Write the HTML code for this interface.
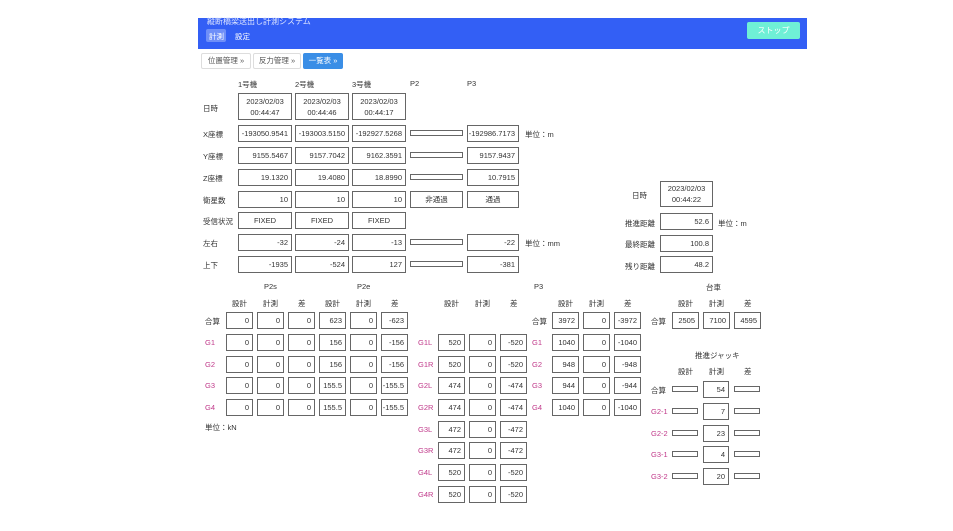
<!DOCTYPE html>
<html><head><meta charset="utf-8"><style>
body{margin:0;width:953px;height:531px;background:#fff;position:relative;overflow:hidden;font-family:"Liberation Sans","Noto Sans CJK JP",sans-serif;font-size:7.5px;color:#333}
div{position:absolute;box-sizing:border-box}
.b{border:1px solid #666;text-align:right;padding-right:3px;line-height:15px;height:17px;background:#fff}
.c{text-align:center;padding:0}
.t{border:1px solid #666;height:6px}
.l{white-space:nowrap}
.p{color:#c0398a}
</style></head><body>
<div style="left:198px;top:18px;width:609px;height:31px;background:#335ff5"></div>
<div class="l" style="left:207px;top:16px;color:#dfe6ff;font-size:8px">縦断橋梁送出し計測システム</div>
<div style="left:206px;top:29px;width:20px;height:13px;background:#6f8ff8;border-radius:2px"></div>
<div class="l" style="left:209px;top:31px;color:#fff;font-size:7.5px">計測</div>
<div class="l" style="left:235px;top:31px;color:#fff;font-size:7.5px">設定</div>
<div style="left:747px;top:22px;width:53px;height:17px;background:#6ff0d6;border-radius:2px;color:#fff;text-align:center;line-height:17px;font-size:8px">ストップ</div>
<div style="left:201px;top:53px;width:50px;height:16px;border:1px solid #ddd;border-radius:2px;text-align:center;line-height:14px;color:#555">位置管理 »</div>
<div style="left:253px;top:53px;width:48px;height:16px;border:1px solid #ddd;border-radius:2px;text-align:center;line-height:14px;color:#555">反力管理 »</div>
<div style="left:303px;top:53px;width:40px;height:16px;background:#3a8ee6;border-radius:2px;text-align:center;line-height:16px;color:#fff">一覧表 »</div>

<div class="l" style="left:238px;top:79px">1号機</div>
<div class="l" style="left:295px;top:79px">2号機</div>
<div class="l" style="left:352px;top:79px">3号機</div>
<div class="l" style="left:410px;top:79px">P2</div>
<div class="l" style="left:467px;top:79px">P3</div>

<div class="l" style="left:203px;top:103px">日時</div>
<div class="b c" style="left:238px;top:93px;width:54px;height:27px;line-height:11px;padding-top:2px">2023/02/03<br>00:44:47</div>
<div class="b c" style="left:295px;top:93px;width:54px;height:27px;line-height:11px;padding-top:2px">2023/02/03<br>00:44:46</div>
<div class="b c" style="left:352px;top:93px;width:54px;height:27px;line-height:11px;padding-top:2px">2023/02/03<br>00:44:17</div>

<div class="l" style="left:203px;top:129px">X座標</div>
<div class="b" style="left:238px;top:125px;width:54px">-193050.9541</div>
<div class="b" style="left:295px;top:125px;width:54px">-193003.5150</div>
<div class="b" style="left:352px;top:125px;width:54px">-192927.5268</div>
<div class="t" style="left:410px;top:130px;width:53px"></div>
<div class="b" style="left:467px;top:125px;width:52px">-192986.7173</div>
<div class="l" style="left:525px;top:129px">単位：m</div>

<div class="l" style="left:203px;top:151px">Y座標</div>
<div class="b" style="left:238px;top:147px;width:54px">9155.5467</div>
<div class="b" style="left:295px;top:147px;width:54px">9157.7042</div>
<div class="b" style="left:352px;top:147px;width:54px">9162.3591</div>
<div class="t" style="left:410px;top:152px;width:53px"></div>
<div class="b" style="left:467px;top:147px;width:52px">9157.9437</div>

<div class="l" style="left:203px;top:173px">Z座標</div>
<div class="b" style="left:238px;top:169px;width:54px">19.1320</div>
<div class="b" style="left:295px;top:169px;width:54px">19.4080</div>
<div class="b" style="left:352px;top:169px;width:54px">18.8990</div>
<div class="t" style="left:410px;top:174px;width:53px"></div>
<div class="b" style="left:467px;top:169px;width:52px">10.7915</div>

<div class="l" style="left:203px;top:195px">衛星数</div>
<div class="b" style="left:238px;top:191px;width:54px">10</div>
<div class="b" style="left:295px;top:191px;width:54px">10</div>
<div class="b" style="left:352px;top:191px;width:54px">10</div>
<div class="b c" style="left:410px;top:191px;width:53px">非通過</div>
<div class="b c" style="left:467px;top:191px;width:52px">通過</div>

<div class="l" style="left:203px;top:216px">受信状況</div>
<div class="b c" style="left:238px;top:212px;width:54px">FIXED</div>
<div class="b c" style="left:295px;top:212px;width:54px">FIXED</div>
<div class="b c" style="left:352px;top:212px;width:54px">FIXED</div>

<div class="l" style="left:203px;top:238px">左右</div>
<div class="b" style="left:238px;top:234px;width:54px">-32</div>
<div class="b" style="left:295px;top:234px;width:54px">-24</div>
<div class="b" style="left:352px;top:234px;width:54px">-13</div>
<div class="t" style="left:410px;top:239px;width:53px"></div>
<div class="b" style="left:467px;top:234px;width:52px">-22</div>
<div class="l" style="left:525px;top:238px">単位：mm</div>

<div class="l" style="left:203px;top:260px">上下</div>
<div class="b" style="left:238px;top:256px;width:54px">-1935</div>
<div class="b" style="left:295px;top:256px;width:54px">-524</div>
<div class="b" style="left:352px;top:256px;width:54px">127</div>
<div class="t" style="left:410px;top:261px;width:53px"></div>
<div class="b" style="left:467px;top:256px;width:52px">-381</div>

<!-- right panel -->
<div class="l" style="left:632px;top:190px">日時</div>
<div class="b c" style="left:660px;top:181px;width:53px;height:26px;line-height:11px;padding-top:1px">2023/02/03<br>00:44:22</div>
<div class="l" style="left:625px;top:218px">推進距離</div>
<div class="b" style="left:660px;top:213px;width:53px">52.6</div>
<div class="l" style="left:718px;top:218px">単位：m</div>
<div class="l" style="left:625px;top:239px">最終距離</div>
<div class="b" style="left:660px;top:235px;width:53px">100.8</div>
<div class="l" style="left:625px;top:261px">残り距離</div>
<div class="b" style="left:660px;top:256px;width:53px">48.2</div>

<!-- lower headers -->
<div class="l" style="left:264px;top:282px">P2s</div>
<div class="l" style="left:357px;top:282px">P2e</div>
<div class="l" style="left:534px;top:282px">P3</div>
<div class="l" style="left:706px;top:282px">台車</div>

<div class="l" style="left:232px;top:298px">設計</div><div class="l" style="left:263px;top:298px">計測</div><div class="l" style="left:298px;top:298px">差</div>
<div class="l" style="left:325px;top:298px">設計</div><div class="l" style="left:356px;top:298px">計測</div><div class="l" style="left:391px;top:298px">差</div>
<div class="l" style="left:444px;top:298px">設計</div><div class="l" style="left:475px;top:298px">計測</div><div class="l" style="left:510px;top:298px">差</div>
<div class="l" style="left:558px;top:298px">設計</div><div class="l" style="left:589px;top:298px">計測</div><div class="l" style="left:624px;top:298px">差</div>
<div class="l" style="left:678px;top:298px">設計</div><div class="l" style="left:709px;top:298px">計測</div><div class="l" style="left:744px;top:298px">差</div>

<!-- left table -->
<div class="l" style="left:205px;top:316px">合算</div>
<div class="l p" style="left:205px;top:338px">G1</div>
<div class="l p" style="left:205px;top:360px">G2</div>
<div class="l p" style="left:205px;top:381px">G3</div>
<div class="l p" style="left:205px;top:403px">G4</div>
<div class="l" style="left:205px;top:422px">単位：kN</div>

<div class="b" style="left:226px;top:312px;width:27px">0</div><div class="b" style="left:257px;top:312px;width:27px">0</div><div class="b" style="left:288px;top:312px;width:27px">0</div><div class="b" style="left:319px;top:312px;width:27px">623</div><div class="b" style="left:350px;top:312px;width:27px">0</div><div class="b" style="left:381px;top:312px;width:27px">-623</div>
<div class="b" style="left:226px;top:334px;width:27px">0</div><div class="b" style="left:257px;top:334px;width:27px">0</div><div class="b" style="left:288px;top:334px;width:27px">0</div><div class="b" style="left:319px;top:334px;width:27px">156</div><div class="b" style="left:350px;top:334px;width:27px">0</div><div class="b" style="left:381px;top:334px;width:27px">-156</div>
<div class="b" style="left:226px;top:356px;width:27px">0</div><div class="b" style="left:257px;top:356px;width:27px">0</div><div class="b" style="left:288px;top:356px;width:27px">0</div><div class="b" style="left:319px;top:356px;width:27px">156</div><div class="b" style="left:350px;top:356px;width:27px">0</div><div class="b" style="left:381px;top:356px;width:27px">-156</div>
<div class="b" style="left:226px;top:377px;width:27px">0</div><div class="b" style="left:257px;top:377px;width:27px">0</div><div class="b" style="left:288px;top:377px;width:27px">0</div><div class="b" style="left:319px;top:377px;width:27px">155.5</div><div class="b" style="left:350px;top:377px;width:27px">0</div><div class="b" style="left:381px;top:377px;width:27px">-155.5</div>
<div class="b" style="left:226px;top:399px;width:27px">0</div><div class="b" style="left:257px;top:399px;width:27px">0</div><div class="b" style="left:288px;top:399px;width:27px">0</div><div class="b" style="left:319px;top:399px;width:27px">155.5</div><div class="b" style="left:350px;top:399px;width:27px">0</div><div class="b" style="left:381px;top:399px;width:27px">-155.5</div>

<!-- middle table -->
<div class="l p" style="left:418px;top:338px">G1L</div><div class="b" style="left:438px;top:334px;width:27px">520</div><div class="b" style="left:469px;top:334px;width:27px">0</div><div class="b" style="left:500px;top:334px;width:27px">-520</div>
<div class="l p" style="left:418px;top:360px">G1R</div><div class="b" style="left:438px;top:356px;width:27px">520</div><div class="b" style="left:469px;top:356px;width:27px">0</div><div class="b" style="left:500px;top:356px;width:27px">-520</div>
<div class="l p" style="left:418px;top:381px">G2L</div><div class="b" style="left:438px;top:377px;width:27px">474</div><div class="b" style="left:469px;top:377px;width:27px">0</div><div class="b" style="left:500px;top:377px;width:27px">-474</div>
<div class="l p" style="left:418px;top:403px">G2R</div><div class="b" style="left:438px;top:399px;width:27px">474</div><div class="b" style="left:469px;top:399px;width:27px">0</div><div class="b" style="left:500px;top:399px;width:27px">-474</div>
<div class="l p" style="left:418px;top:425px">G3L</div><div class="b" style="left:438px;top:421px;width:27px">472</div><div class="b" style="left:469px;top:421px;width:27px">0</div><div class="b" style="left:500px;top:421px;width:27px">-472</div>
<div class="l p" style="left:418px;top:446px">G3R</div><div class="b" style="left:438px;top:442px;width:27px">472</div><div class="b" style="left:469px;top:442px;width:27px">0</div><div class="b" style="left:500px;top:442px;width:27px">-472</div>
<div class="l p" style="left:418px;top:468px">G4L</div><div class="b" style="left:438px;top:464px;width:27px">520</div><div class="b" style="left:469px;top:464px;width:27px">0</div><div class="b" style="left:500px;top:464px;width:27px">-520</div>
<div class="l p" style="left:418px;top:490px">G4R</div><div class="b" style="left:438px;top:486px;width:27px">520</div><div class="b" style="left:469px;top:486px;width:27px">0</div><div class="b" style="left:500px;top:486px;width:27px">-520</div>

<!-- P3 right -->
<div class="l" style="left:532px;top:316px">合算</div><div class="b" style="left:552px;top:312px;width:27px">3972</div><div class="b" style="left:583px;top:312px;width:27px">0</div><div class="b" style="left:614px;top:312px;width:27px">-3972</div>
<div class="l p" style="left:532px;top:338px">G1</div><div class="b" style="left:552px;top:334px;width:27px">1040</div><div class="b" style="left:583px;top:334px;width:27px">0</div><div class="b" style="left:614px;top:334px;width:27px">-1040</div>
<div class="l p" style="left:532px;top:360px">G2</div><div class="b" style="left:552px;top:356px;width:27px">948</div><div class="b" style="left:583px;top:356px;width:27px">0</div><div class="b" style="left:614px;top:356px;width:27px">-948</div>
<div class="l p" style="left:532px;top:381px">G3</div><div class="b" style="left:552px;top:377px;width:27px">944</div><div class="b" style="left:583px;top:377px;width:27px">0</div><div class="b" style="left:614px;top:377px;width:27px">-944</div>
<div class="l p" style="left:532px;top:403px">G4</div><div class="b" style="left:552px;top:399px;width:27px">1040</div><div class="b" style="left:583px;top:399px;width:27px">0</div><div class="b" style="left:614px;top:399px;width:27px">-1040</div>

<!-- 台車 -->
<div class="l" style="left:651px;top:316px">合算</div><div class="b" style="left:672px;top:312px;width:27px">2505</div><div class="b" style="left:703px;top:312px;width:27px">7100</div><div class="b" style="left:734px;top:312px;width:27px">4595</div>

<!-- 推進ジャッキ -->
<div class="l" style="left:695px;top:350px">推進ジャッキ</div>
<div class="l" style="left:678px;top:366px">設計</div><div class="l" style="left:709px;top:366px">計測</div><div class="l" style="left:744px;top:366px">差</div>
<div class="l" style="left:651px;top:385px">合算</div><div class="t" style="left:672px;top:386px;width:26px"></div><div class="b" style="left:703px;top:381px;width:26px">54</div><div class="t" style="left:734px;top:386px;width:26px"></div>
<div class="l p" style="left:651px;top:407px">G2-1</div><div class="t" style="left:672px;top:408px;width:26px"></div><div class="b" style="left:703px;top:403px;width:26px">7</div><div class="t" style="left:734px;top:408px;width:26px"></div>
<div class="l p" style="left:651px;top:429px">G2-2</div><div class="t" style="left:672px;top:430px;width:26px"></div><div class="b" style="left:703px;top:425px;width:26px">23</div><div class="t" style="left:734px;top:430px;width:26px"></div>
<div class="l p" style="left:651px;top:450px">G3-1</div><div class="t" style="left:672px;top:451px;width:26px"></div><div class="b" style="left:703px;top:446px;width:26px">4</div><div class="t" style="left:734px;top:451px;width:26px"></div>
<div class="l p" style="left:651px;top:472px">G3-2</div><div class="t" style="left:672px;top:473px;width:26px"></div><div class="b" style="left:703px;top:468px;width:26px">20</div><div class="t" style="left:734px;top:473px;width:26px"></div>
</body></html>
